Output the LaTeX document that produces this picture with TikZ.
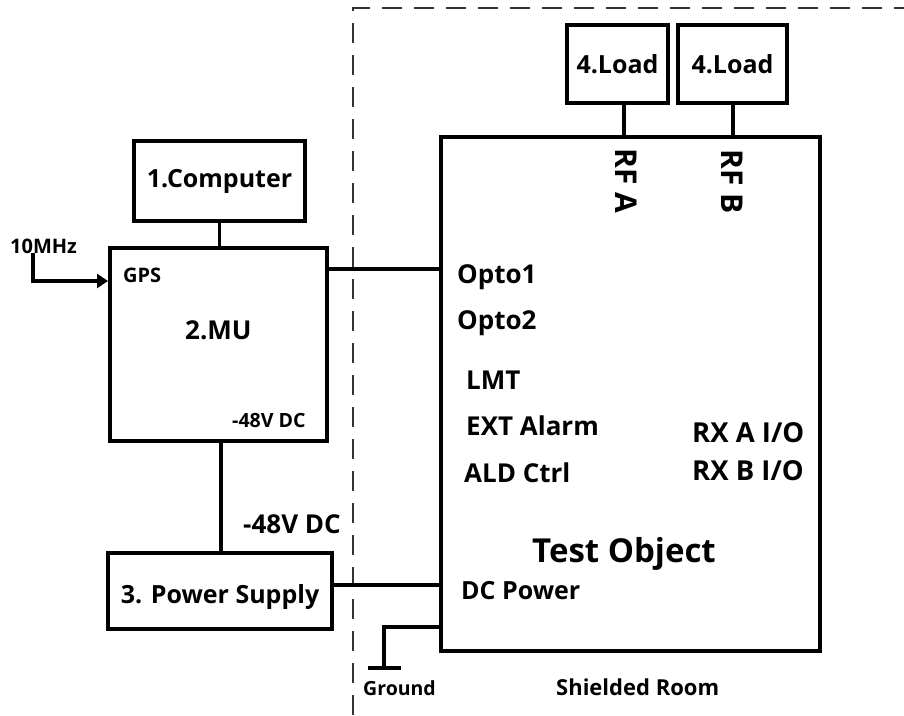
\documentclass[tikz,border=0pt]{standalone}
\usepackage{fontspec}
\setmainfont{Open Sans}
\usetikzlibrary{arrows.meta,calc}
\begin{document}
\begin{tikzpicture}[x=1pt,y=-1pt,
  box/.style={draw,line width=4pt,inner sep=0pt,font=\fontsize{25}{28}\selectfont\bfseries},
  lbl/.style={inner sep=0pt,anchor=base west,font=\fontsize{26}{30}\selectfont\bfseries},
  sml/.style={inner sep=0pt,anchor=base west,font=\fontsize{20}{24}\selectfont\bfseries},
  wire/.style={line width=3.8pt},
  room/.style={line width=2pt,dash pattern=on 20pt off 12pt,draw=black!80}]
\useasboundingbox (0,0) rectangle (904,715);
% shielded room
\coordinate (rb) at (353,715);
\coordinate (rc) at (353,8);
\coordinate (rr) at (904,8);
\draw[room] (rb) -- (rc) -- (rr);
% boxes
\node[box,minimum width=171pt,minimum height=80pt,text height=18pt,text depth=6pt] (comp) at (219.5,181) {1.Computer};
\node[box,minimum width=217pt,minimum height=193pt] (mu) at (218.5,344.5) {};
\node[box,minimum width=224pt,minimum height=76pt,text height=24pt,text depth=0pt] (ps) at (220,591) {3. Power Supply};
\node[box,minimum width=379pt,minimum height=514pt] (test) at (630.5,394) {};
\node[box,minimum width=101pt,minimum height=78pt,text height=18pt,text depth=0pt] (load1) at (617.5,64) {4.Load};
\node[box,minimum width=109pt,minimum height=78pt,text height=18pt,text depth=0pt] (load2) at (732.5,64) {4.Load};
% MU labels
\node[lbl] (mulbl) at (185,339) {2.MU};
\node[sml] (gps) at (123,282) {GPS};
\node[sml,font=\fontsize{19.6}{24}\selectfont\bfseries] (mudc) at (232,427) {-48V DC};
\node[sml] (mhz) at (10,253) {10MHz};
% test object labels
\node[lbl] (o1) at (457,283) {Opto1};
\node[lbl] (o2) at (457,329) {Opto2};
\node[lbl] (lmt) at (466,389) {LMT};
\node[lbl] (ext) at (466,435) {EXT Alarm};
\node[lbl] (ald) at (464,482) {ALD Ctrl};
\node[lbl,font=\fontsize{27.5}{30}\selectfont\bfseries] (rxa) at (692,442) {RX A I/O};
\node[lbl,font=\fontsize{27.5}{30}\selectfont\bfseries] (rxb) at (692,480) {RX B I/O};
\node[lbl,font=\fontsize{33}{36}\selectfont\bfseries] (tol) at (532,562) {Test Object};
\node[lbl,font=\fontsize{25}{30}\selectfont\bfseries] (dcp) at (461,599) {DC Power};
\node[inner sep=0pt,rotate=-90,font=\fontsize{30}{34}\selectfont\bfseries] (rfa) at (626,181) {RF A};
\node[inner sep=0pt,rotate=-90,font=\fontsize{30}{34}\selectfont\bfseries] (rfb) at (732,182) {RF B};
\node[lbl] (dcl) at (243,533) {-48V DC};
\node[sml,font=\fontsize{19.5}{24}\selectfont\bfseries] (gndl) at (363,695) {Ground};
\node[sml,font=\fontsize{22}{26}\selectfont\bfseries] (shl) at (556,695) {Shielded Room};
% connectors
\coordinate (y269) at (0,269);
\coordinate (y585) at (0,585);
\coordinate (y627) at (0,627);
\coordinate (x221) at (220.7,0);
\draw[wire] (comp.south) -- (comp.south |- mu.north);
\draw[wire] (mu.east |- y269) -- (test.west |- y269);
\draw[wire] (x221 |- mu.south) -- (x221 |- ps.north);
\draw[wire] (ps.east |- y585) -- (test.west |- y585);
\draw[wire] (load1.south -| 624,0) -- (test.north -| 624,0);
\draw[wire] (load2.south -| 733,0) -- (test.north -| 733,0);
% ground
\coordinate (gnd) at (384,668);
\coordinate (gl) at (368,668);
\coordinate (gr) at (401,668);
\draw[wire] (test.west |- y627) -| (gnd);
\draw[wire] (gl) -- (gr);
% 10MHz
\coordinate (m1) at (33,253);
\coordinate (m2) at (33,281);
\draw[line width=3.5pt,-{Triangle[length=11pt,width=14pt]}] (m1) -- (m2) -- (mu.west |- m2);
\end{tikzpicture}
\end{document}
